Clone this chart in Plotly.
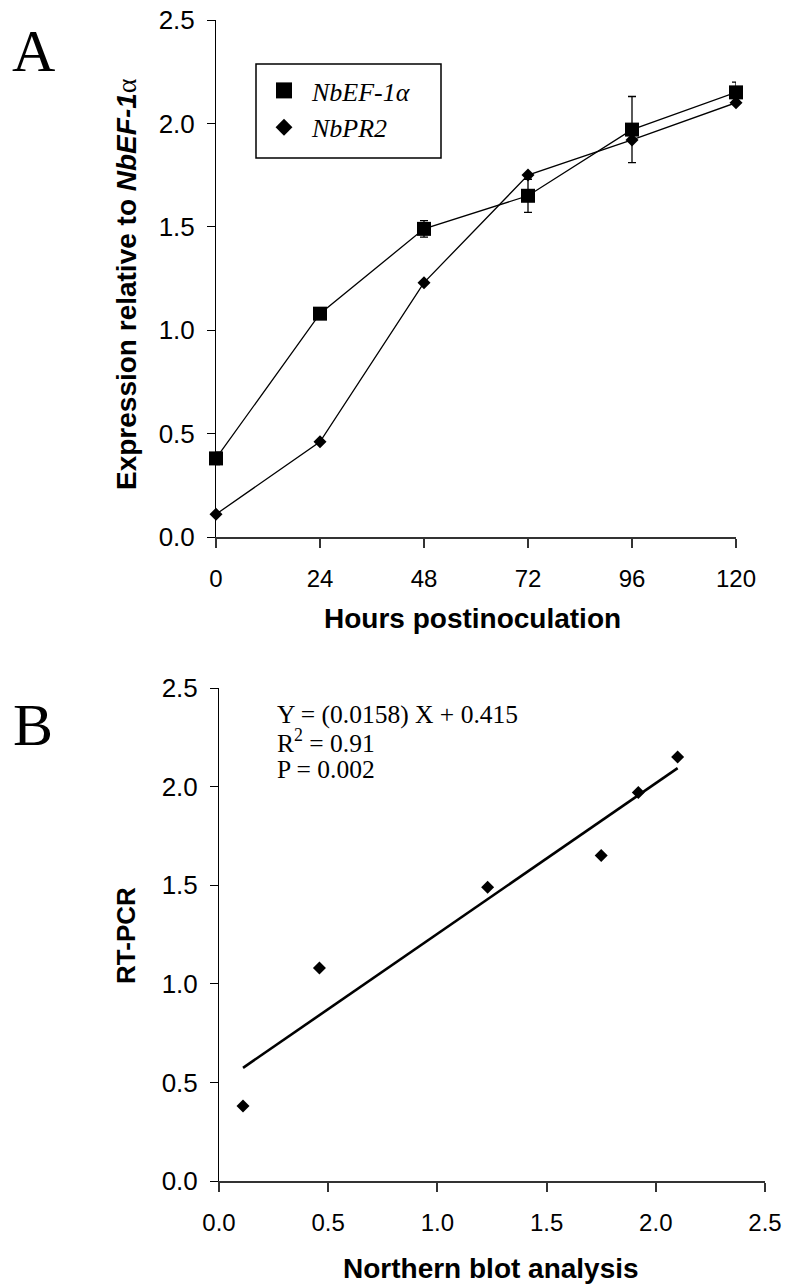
import numpy as np
import plotly.graph_objects as go

# ---- data ----
hours = [0, 24, 48, 72, 96, 120]
ef1a = [0.38, 1.08, 1.49, 1.65, 1.97, 2.15]
ef1a_err = [0.03, 0.01, 0.04, 0.08, 0.16, 0.05]
pr2 = [0.11, 0.46, 1.23, 1.75, 1.92, 2.10]

northern = pr2            # Northern blot analysis (x of panel B)
rtpcr = ef1a              # RT-PCR (y of panel B)

eq_lines = ["Y = (0.0158) X + 0.415", "R<sup>2</sup> = 0.91", "P = 0.002"]

W, H = 785, 1285
def px(x):
    return x / W
def py(y):
    return 1 - y / H

fig = go.Figure()

# panel A lines
fig.add_trace(go.Scatter(x=hours, y=pr2, mode="lines", line=dict(color="black", width=1.3),
                         showlegend=False, xaxis="x", yaxis="y", hoverinfo="skip"))
fig.add_trace(go.Scatter(x=hours, y=ef1a, mode="lines", line=dict(color="black", width=1.3),
                         showlegend=False, xaxis="x", yaxis="y", hoverinfo="skip"))
# panel A markers
fig.add_trace(go.Scatter(x=hours, y=pr2, mode="markers", name="NbPR2",
                         marker=dict(symbol="diamond", size=10, color="black"),
                         showlegend=False, cliponaxis=False, xaxis="x", yaxis="y"))
fig.add_trace(go.Scatter(x=hours, y=ef1a, mode="markers", name="NbEF-1α",
                         marker=dict(symbol="square", size=14, color="black"),
                         error_y=dict(type="data", array=ef1a_err, visible=True,
                                      color="black", thickness=1.3, width=4),
                         showlegend=False, cliponaxis=False, xaxis="x", yaxis="y"))
# legend entries (legend-only keys)
fig.add_trace(go.Scatter(x=[None], y=[None], mode="markers", name="<i>NbEF-1α</i>",
                         marker=dict(symbol="square", size=16, color="black"),
                         legendrank=1, xaxis="x", yaxis="y"))
fig.add_trace(go.Scatter(x=[None], y=[None], mode="markers", name="<i>NbPR2</i>",
                         marker=dict(symbol="diamond", size=13, color="black"),
                         legendrank=2, xaxis="x", yaxis="y"))

# panel B
coef = np.polyfit(northern, rtpcr, 1)
fit_x = [min(northern), max(northern)]
fit_y = list(np.polyval(coef, fit_x))
fig.add_trace(go.Scatter(x=fit_x, y=fit_y, mode="lines", line=dict(color="black", width=2.6),
                         showlegend=False, xaxis="x2", yaxis="y2", hoverinfo="skip"))
fig.add_trace(go.Scatter(x=northern, y=rtpcr, mode="markers",
                         marker=dict(symbol="diamond", size=10, color="black"),
                         showlegend=False, cliponaxis=False, xaxis="x2", yaxis="y2"))

xtickfont = dict(family="Liberation Sans, Arial", size=24, color="black")
ytickfont = dict(family="Liberation Sans, Arial", size=26, color="black")
common_y = dict(range=[0, 2.5], dtick=0.5, tick0=0, tickformat=".1f", showgrid=False,
                zeroline=False, showline=True, linecolor="black", linewidth=1,
                ticks="outside", ticklen=8, tickcolor="black", tickwidth=1,
                tickfont=ytickfont, ticklabelstandoff=7, automargin=False,
                ticklabeloverflow="allow")
common_x = dict(showgrid=False, zeroline=False, showline=True, linecolor="#333",
                linewidth=1.5, ticks="outside", ticklen=9, tickcolor="#333", tickwidth=1.5,
                tickfont=xtickfont, ticklabelstandoff=10, automargin=False,
                ticklabeloverflow="allow")

fig.update_layout(
    width=W, height=H,
    margin=dict(l=0, r=0, t=0, b=0, autoexpand=False),
    paper_bgcolor="white", plot_bgcolor="white",
    xaxis=dict(domain=[px(216), px(736)], range=[0, 120], dtick=24, tick0=0,
               anchor="y", **common_x),
    yaxis=dict(domain=[py(537), py(20)], anchor="x", **common_y),
    xaxis2=dict(domain=[px(219), px(765)], range=[0, 2.5], dtick=0.5, tick0=0,
                tickformat=".1f", anchor="y2", **common_x),
    yaxis2=dict(domain=[py(1181), py(688)], anchor="x2", **common_y),
    legend=dict(x=px(256), y=py(67), xanchor="left", yanchor="top",
                borderwidth=0, bgcolor="rgba(0,0,0,0)",
                font=dict(family="Liberation Serif, Times New Roman", size=26, color="black"),
                itemwidth=46, tracegroupgap=0),
    showlegend=True,
    shapes=[dict(type="rect", xref="paper", yref="paper",
                 x0=px(256), x1=px(441), y0=py(158), y1=py(64),
                 line=dict(color="black", width=1.5), fillcolor="rgba(0,0,0,0)", layer="above")],
)

ann = []
title_font = dict(family="Liberation Sans, Arial", size=28, color="black", weight="bold")
ann.append(dict(text="Expression relative to <i>NbEF-1</i><span style=\"font-family:Liberation Serif;font-weight:normal\">α</span>",
                x=px(126), y=py(284), textangle=-90, font=title_font))
ann.append(dict(text="RT-PCR", x=px(126), y=py(936), textangle=-90,
                font=dict(family="Liberation Sans, Arial", size=26, color="black", weight="bold")))
ann.append(dict(text="Hours postinoculation", x=px(472), y=py(618), font=title_font))
ann.append(dict(text="Northern blot analysis", x=px(491), y=py(1268), font=title_font))
serif = dict(family="Liberation Serif, Times New Roman", color="black")
ann.append(dict(text="A", x=px(33), y=py(51), font=dict(size=60, **serif)))
ann.append(dict(text="B", x=px(33), y=py(725), font=dict(size=60, **serif)))
for t, yy in zip(eq_lines, [714, 742, 769]):
    ann.append(dict(text=t, x=px(275), y=py(yy), xanchor="left", font=dict(size=25.5, **serif)))
for a in ann:
    a.setdefault("xanchor", "center")
    a.update(xref="paper", yref="paper", yanchor="middle", showarrow=False)
fig.update_layout(annotations=ann)

fig.write_html("out.html", config={"displayModeBar": False},
               post_script="document.body.style.margin='0';")
